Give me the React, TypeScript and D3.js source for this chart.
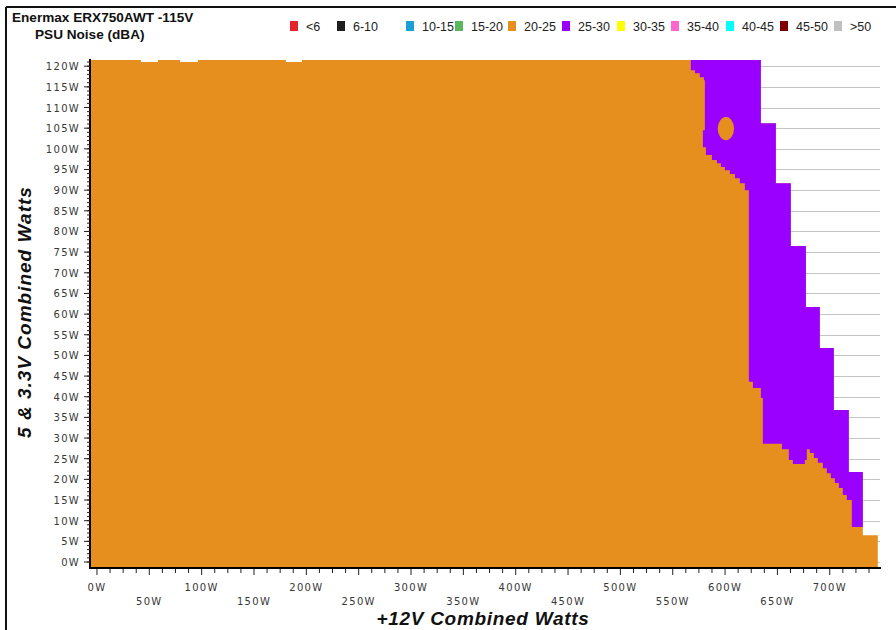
import React from 'react';
import * as d3 from 'd3';

const chartTitle = 'Enermax ERX750AWT -115V';
const chartSubtitle = 'PSU Noise (dBA)';
const xAxisTitle = '+12V Combined Watts';
const yAxisTitle = '5 & 3.3V Combined Watts';

// noise bands (dBA) shown in the legend
const noiseBands = ['<6', '6-10', '10-15', '15-20', '20-25', '25-30', '30-35', '35-40', '40-45', '45-50', '>50'];
const bandColors = ['#e2252b', '#1e1e1e', '#1aa0d6', '#5bb75e', '#e68f1f', '#9900ff', '#ffff00', '#ff66cc', '#00ffff', '#7f0000', '#c0c0c0'];

const xTicks = [0, 50, 100, 150, 200, 250, 300, 350, 400, 450, 500, 550, 600, 650, 700];
const yTicks = [0, 5, 10, 15, 20, 25, 30, 35, 40, 45, 50, 55, 60, 65, 70, 75, 80, 85, 90, 95, 100, 105, 110, 115, 120];

// outline of the measured load range (all 20-25 dBA unless covered below), [+12V W, 5V W]
const measuredOutline: [number, number][] = [
  [-5.7, -1.45], [-5.7, 121.5], [42.0, 121.5], [42.0, 121.0], [58.3, 121.0], [58.3, 121.5],
  [79.3, 121.5], [79.3, 121.0], [96.5, 121.0], [96.5, 121.5], [180.5, 121.5], [180.5, 121.0],
  [195.8, 121.0], [195.8, 121.5], [634.2, 121.5], [634.2, 106.2], [648.5, 106.2], [648.5, 91.7],
  [662.8, 91.7], [662.8, 76.5], [677.2, 76.5], [677.2, 61.7], [690.5, 61.7], [690.5, 51.8],
  [703.9, 51.8], [703.9, 36.8], [718.2, 36.8], [718.2, 21.8], [731.6, 21.8], [731.6, 6.5],
  [745.9, 6.5], [745.9, -1.45],
];

// 25-30 dBA zone outline
const zone2530Outline: [number, number][] = [
  [567.3, 121.5], [634.2, 121.5], [634.2, 106.2], [648.5, 106.2], [648.5, 91.7], [662.8, 91.7],
  [662.8, 76.5], [677.2, 76.5], [677.2, 61.7], [690.5, 61.7], [690.5, 51.8], [703.9, 51.8],
  [703.9, 36.8], [718.2, 36.8], [718.2, 21.8], [731.6, 21.8], [731.6, 8.5], [721.1, 8.5],
  [721.1, 15.0], [716.3, 15.0], [716.3, 16.2], [712.5, 16.2], [712.5, 17.9], [708.7, 17.9],
  [708.7, 19.1], [704.9, 19.1], [704.9, 20.3], [701.0, 20.3], [701.0, 21.5], [697.2, 21.5],
  [697.2, 22.7], [693.4, 22.7], [693.4, 24.0], [688.6, 24.0], [688.6, 25.2], [684.8, 25.2],
  [684.8, 26.4], [681.0, 26.4], [681.0, 27.3], [678.1, 27.3], [678.1, 24.7], [676.2, 24.7],
  [676.2, 23.7], [664.8, 23.7], [664.8, 24.7], [660.9, 24.7], [660.9, 27.3], [654.3, 27.3],
  [654.3, 28.6], [636.1, 28.6], [636.1, 39.7], [634.2, 39.7], [634.2, 42.1], [626.6, 42.1],
  [626.6, 43.6], [622.7, 43.6], [622.7, 90.0], [618.9, 90.0], [618.9, 91.7], [614.1, 91.7],
  [614.1, 92.9], [609.4, 92.9], [609.4, 93.9], [604.6, 93.9], [604.6, 94.8], [599.8, 94.8],
  [599.8, 95.6], [596.0, 95.6], [596.0, 96.5], [592.2, 96.5], [592.2, 97.3], [587.4, 97.3],
  [587.4, 98.5], [581.7, 98.5], [581.7, 100.4], [578.8, 100.4], [578.8, 104.5], [580.7, 104.5],
  [580.7, 116.6], [579.8, 116.6], [579.8, 117.3], [575.9, 117.3], [575.9, 118.3], [571.2, 118.3],
  [571.2, 119.0], [567.3, 119.0],
];

// quieter 20-25 dBA pocket inside the 25-30 zone: centre and half-size in W
const pocketCenter = [600.8, 104.9];
const pocketHalfSize = [7.8, 2.8];

const W = 896;
const H = 630;
const ORANGE = '#e68f1f';
const PURPLE = '#9900ff';
const tickFont = '"DejaVu Sans", Verdana, sans-serif';
const textFont = '"Liberation Sans", Arial, sans-serif';

// legend item left edges (layout only)
const legendX = [290, 337, 406, 455, 508, 562, 617, 671, 726, 780, 834];

export default function App() {
  const x = d3.scaleLinear().domain([-5.7, 748]).range([91, 880]);
  const y = d3.scaleLinear().domain([-1.45, 121.5]).range([568, 60]);

  const outline = d3.line<[number, number]>()
    .x(d => x(d[0]))
    .y(d => y(d[1]))
    .curve(d3.curveLinearClosed);

  const minorY = d3.range(0, 121.5, 1);
  const minorX = d3.range(0, 745, 12.5);

  return (
    <div style={{ position: 'absolute', left: 0, top: 0 }}>
      <svg width={W} height={H} style={{ display: 'block', background: '#fff' }}>
        <rect x={0} y={0} width={W} height={H} fill="#fff" />
        {/* frame */}
        <line x1={6} x2={W} y1={7} y2={7} stroke="#111" strokeWidth={2} />
        <line x1={6} x2={6} y1={7} y2={H} stroke="#111" strokeWidth={2} />

        {/* title */}
        <text x={12} y={22} fontFamily={textFont} fontWeight="bold" fontSize={13.6} fill="#111">{chartTitle}</text>
        <text x={35} y={39} fontFamily={textFont} fontWeight="bold" fontSize={13.6} fill="#111">{chartSubtitle}</text>

        {/* legend */}
        {noiseBands.map((b, i) => (
          <g key={b} transform={`translate(${legendX[i]},0)`}>
            <rect x={0} y={21} width={8} height={10} fill={bandColors[i]} />
            <text x={16} y={31} fontFamily={textFont} fontSize={12.5} fill="#222">{b}</text>
          </g>
        ))}

        {/* grid */}
        {yTicks.map(t => (
          <line key={`g${t}`} x1={91} x2={880} y1={Math.round(y(t)) + 0.5} y2={Math.round(y(t)) + 0.5} stroke="#c4c4c4" strokeWidth={1} />
        ))}

        {/* data */}
        <path d={outline(measuredOutline) || ''} fill={ORANGE} />
        <path d={outline(zone2530Outline) || ''} fill={PURPLE} />
        <ellipse
          cx={x(pocketCenter[0])}
          cy={y(pocketCenter[1])}
          rx={x(pocketCenter[0] + pocketHalfSize[0]) - x(pocketCenter[0])}
          ry={y(pocketCenter[1]) - y(pocketCenter[1] + pocketHalfSize[1])}
          fill={ORANGE}
        />

        {/* y axis */}
        <line x1={90} x2={90} y1={59} y2={569} stroke="#000" strokeWidth={2} />
        {minorY.map(t => (
          <line key={`ym${t}`} x1={87} x2={90} y1={y(t)} y2={y(t)} stroke="#222" strokeWidth={1} />
        ))}
        {yTicks.map(t => (
          <g key={`y${t}`}>
            <line x1={84} x2={90} y1={y(t)} y2={y(t)} stroke="#222" strokeWidth={1} />
            <text x={80} y={y(t) + 4} textAnchor="end" fontFamily={tickFont} fontSize={10} letterSpacing={1.3} fill="#383838">{`${t}W`}</text>
          </g>
        ))}

        {/* x axis */}
        <line x1={89} x2={881} y1={568} y2={568} stroke="#000" strokeWidth={2} />
        {minorX.map(t => (
          <line key={`xm${t}`} x1={x(t)} x2={x(t)} y1={569} y2={t % 50 === 0 ? 575 : 573} stroke="#222" strokeWidth={1} />
        ))}
        {xTicks.map(t => (
          <text key={`x${t}`} x={x(t)} y={t % 100 === 0 ? 591 : 605} textAnchor="middle" fontFamily={tickFont} fontSize={10} letterSpacing={1.3} fill="#383838">{`${t}W`}</text>
        ))}

        {/* axis titles */}
        <text x={483} y={625} textAnchor="middle" fontFamily={textFont} fontWeight="bold" fontStyle="italic" fontSize={19} letterSpacing={0.7} fill="#111">{xAxisTitle}</text>
        <text transform="translate(31,312) rotate(-90)" textAnchor="middle" fontFamily={textFont} fontWeight="bold" fontStyle="italic" fontSize={19} letterSpacing={1} fill="#111">{yAxisTitle}</text>
      </svg>
    </div>
  );
}
